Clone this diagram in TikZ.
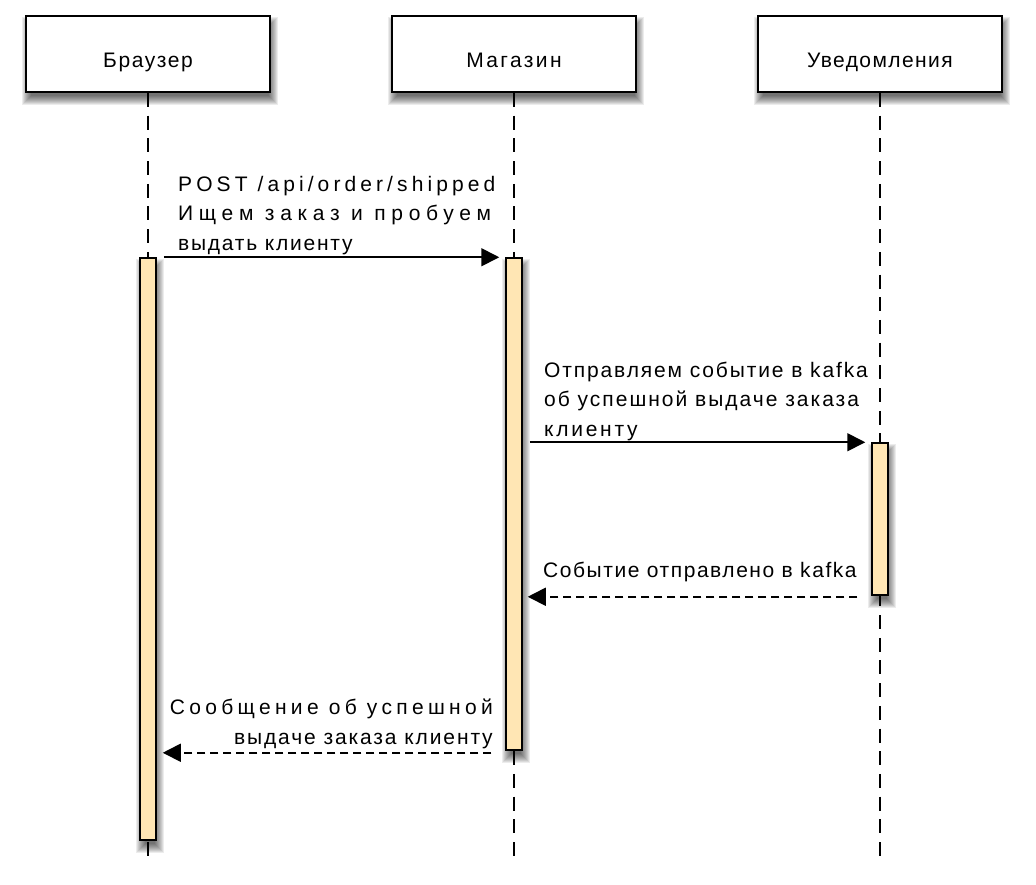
\documentclass[tikz,border=0pt]{standalone}
\usepackage{fontspec}
\setmainfont{Liberation Sans}
\usetikzlibrary{arrows.meta,calc,backgrounds}
\definecolor{barfill}{RGB}{255,230,180}
\newcommand\lsp[2]{{\addfontfeature{LetterSpace=#1}#2}}
\newcommand\softshade[1]{%
  \foreach \t in {0,...,9}{%
    \fill[black,opacity=0.075] ($(#1.north west)+(6-\t,11-\t)$) rectangle ($(#1.south east)+(\t-2,\t+3)$);
  }}
\begin{document}
\begin{tikzpicture}[x=1pt,y=-1pt,
  font=\fontsize{21}{29.5}\selectfont,
  actor/.style={draw,line width=1.9pt,fill=white,minimum width=244pt,minimum height=76pt,inner sep=0pt,text height=27.5pt,text depth=0pt},
  act/.style={draw,line width=1.5pt,fill=barfill,minimum width=16pt,inner sep=0pt},
  life/.style={line width=2pt,dash pattern=on 14pt off 8.7pt},
  msg/.style={line width=1.7pt,-{Triangle[length=18pt,width=18pt]}},
  ret/.style={msg,dash pattern=on 8pt off 5pt},
  lbl/.style={inner sep=0pt}]
\useasboundingbox (0,0) rectangle (1036,884);
% participants
\node[actor] (br) at (148,54) {\lsp{7.5}{Браузер}};
\node[actor] (mg) at (514,54) {\lsp{11.5}{Магазин}};
\node[actor] (uv) at (880,54) {\lsp{6.8}{Уведомления}};
\coordinate (brend) at (148,862);
\coordinate (mgend) at (514,862);
\coordinate (uvend) at (880,862);
\draw[life] (br.south) -- (brend);
\draw[life] (mg.south) -- (mgend);
\draw[life] (uv.south) -- (uvend);
% activations
\node[act,minimum height=582pt] (b1) at (148,549) {};
\node[act,minimum height=492pt] (b2) at (514,504) {};
\node[act,minimum height=152pt] (b3) at (880,519) {};
% messages
\draw[msg] ($(b1.north east)+(7,0)$) -- ($(b2.north west)+(-6,0)$);
\draw[msg] ($(b2.east |- b3.north)+(7,0)$) -- ($(b3.north west)+(-6,0)$);
\draw[ret] ($(b3.south west)+(-14,1)$) -- ($(b2.east |- b3.south)+(5,1)$);
\draw[ret] ($(b2.south west)+(-14,2)$) -- ($(b1.east |- b2.south)+(6,2)$);
% labels
\node[lbl,anchor=south west,align=left] (l1) at (178,255)
  {\lsp{19.5}{POST /api/order/shipped}\\\lsp{27}{Ищем заказ и пробуем}\\\lsp{8.4}{выдать клиенту}};
\node[lbl,anchor=south west,align=left] (l2) at (544,441)
  {\lsp{8.9}{Отправляем событие в kafka}\\\lsp{9.5}{об успешной выдаче заказа}\\\lsp{13}{клиенту}};
\node[lbl,anchor=south west,align=left] (l3) at (543,582)
  {\lsp{7.4}{Событие отправлено в kafka}};
\node[lbl,anchor=south east,align=right] (l4) at (493,749)
  {\lsp{20.5}{Сообщение об успешной}\\\lsp{9}{выдаче заказа клиенту}};
% shadows
\begin{scope}[on background layer]
\fill[white] (0,0) rectangle (1036,884);
\softshade{br}\softshade{mg}\softshade{uv}
\softshade{b1}\softshade{b2}\softshade{b3}
\end{scope}
\end{tikzpicture}
\end{document}
